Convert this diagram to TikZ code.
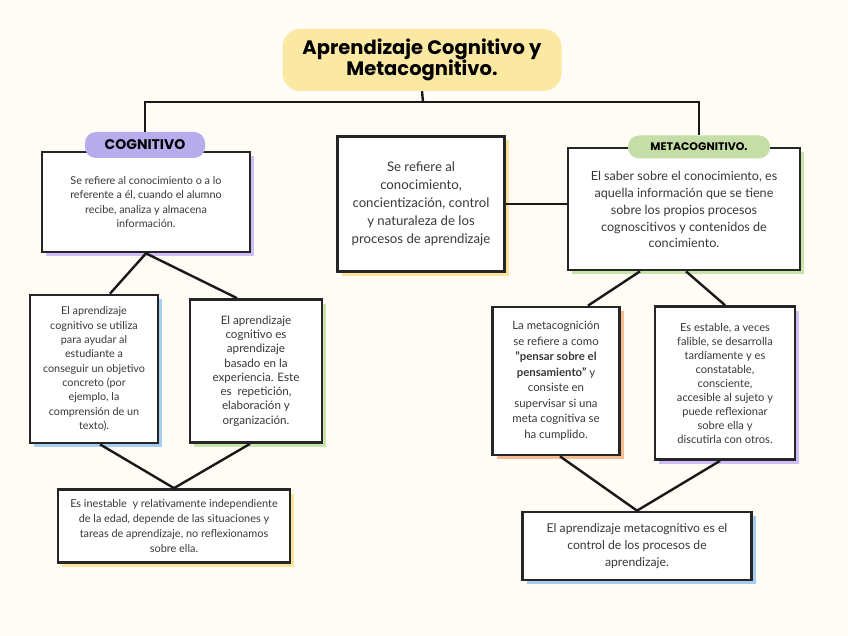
\documentclass[tikz,border=0pt]{standalone}
\usepackage{fontspec}
\setmainfont{Lato}
\newfontfamily\titlefont{Poppins}
\usetikzlibrary{shadows}
\definecolor{paper}{RGB}{254,252,245}
\definecolor{titleyellow}{RGB}{251,233,163}
\definecolor{lilac}{RGB}{183,172,236}
\definecolor{sage}{RGB}{197,222,168}
\definecolor{shlilac}{RGB}{205,190,246}
\definecolor{shsage}{RGB}{200,228,170}
\definecolor{shblue}{RGB}{165,205,238}
\definecolor{shorange}{RGB}{246,188,146}
\definecolor{shyellow}{RGB}{250,228,155}
\tikzset{
  card/.style={draw=black!85, line width=2.7pt, fill=white, align=center, inner sep=2pt,
    text=black!78, font=\fontsize{10.8}{14.3}\selectfont},
  backing/.style={general shadow={fill=#1, shadow xshift=4pt, shadow yshift=-4pt}},
  pill/.style={fill=#1, rounded corners=11pt, inner sep=0pt, text=black,
    font=\titlefont\bfseries},
  link/.style={line width=2.4pt, black!90}
}
\begin{document}
\begin{tikzpicture}[x=1pt, y=-1pt]
\useasboundingbox[fill=paper] (0,0) rectangle (848,636);

% title
\node[fill=titleyellow, rounded corners=18pt, minimum width=279pt, minimum height=62pt,
  align=center, font=\titlefont\bfseries\fontsize{19.5}{21}\selectfont] (title) at (422,60)
  {Aprendizaje Cognitivo y\\Metacognitivo.};
\coordinate (hub) at (423,102);

% first row
\node[card, backing=shlilac, minimum width=208pt, minimum height=100pt] (cog) at (146,202)
  {Se refiere al conocimiento o a lo\\referente a él, cuando el alumno\\recibe, analiza y almacena\\información.};
\node[card, backing=shyellow, minimum width=167pt, minimum height=135pt,
  font=\fontsize{13.2}{18}\selectfont] (mid) at (421,204)
  {Se refiere al\\conocimiento,\\concientización, control\\y naturaleza de los\\procesos de aprendizaje};
\node[card, backing=shsage, minimum width=232pt, minimum height=122pt,
  font=\fontsize{12.6}{16.8}\selectfont] (meta) at (684,209)
  {\\[-6pt]El saber sobre el conocimiento, es\\aquella información que se tiene\\sobre los propios procesos\\cognoscitivos y contenidos de\\concimiento.};
\node[pill=lilac, minimum width=120pt, minimum height=26pt, font=\titlefont\bfseries\fontsize{14}{16}\selectfont] (coglab) at (145,145) {COGNITIVO};
\node[pill=sage, minimum width=142pt, minimum height=23pt, font=\titlefont\bfseries\fontsize{11}{13}\selectfont] (metalab) at (699,147) {METACOGNITIVO.};

% second row
\node[card, backing=shblue, minimum width=128pt, minimum height=148pt] (cogA) at (94,369)
  {El aprendizaje\\cognitivo se utiliza\\para ayudar al\\estudiante a\\conseguir un objetivo\\concreto (por\\ejemplo, la\\comprensión de un\\texto).};
\node[card, backing=shsage, minimum width=132pt, minimum height=143pt,
  font=\fontsize{11.6}{14.3}\selectfont] (cogB) at (256,371)
  {El aprendizaje\\cognitivo es\\aprendizaje\\basado en la\\experiencia. Este\\es\ \ repetición,\\elaboración y\\organización.};
\node[card, backing=shorange, minimum width=127pt, minimum height=148pt,
  font=\fontsize{11.4}{15.5}\selectfont] (metaA) at (556,381)
  {La metacognición\\se refiere a como\\\textbf{"pensar sobre el}\\\textbf{pensamiento"} y\\consiste en\\supervisar si una\\meta cognitiva se\\ha cumplido.};
\node[card, backing=shlilac, minimum width=140pt, minimum height=153pt,
  font=\fontsize{11.1}{14}\selectfont] (metaB) at (725,383)
  {Es estable, a veces\\falible, se desarrolla\\tardíamente y es\\constatable,\\consciente,\\accesible al sujeto y\\puede reflexionar\\sobre ella y\\discutirla con otros.};

% third row
\node[card, backing=shyellow, minimum width=232pt, minimum height=73pt,
  font=\fontsize{10.9}{15}\selectfont] (cogC) at (174,526)
  {Es inestable\ \ y relativamente independiente\\de la edad, depende de las situaciones y\\tareas de aprendizaje, no reflexionamos\\sobre ella.};
\node[card, backing=shblue, minimum width=229pt, minimum height=68pt,
  font=\fontsize{12.2}{17}\selectfont] (metaC) at (637,546)
  {El aprendizaje metacognitivo es el\\control de los procesos de\\aprendizaje.};

% connectors
\draw[link] (title.south) -- (hub);
\draw[link] (coglab.north) |- (hub) -| (metalab.north);
\draw[link] (mid.east) -- (mid.east -| meta.west);
\draw[link] (cog.south) -- ([xshift=16pt]cogA.north);
\draw[link] (cog.south) -- ([xshift=-19pt]cogB.north);
\draw[link] ([xshift=6pt]cogA.south) -- (cogC.north);
\draw[link] ([xshift=-6pt]cogB.south) -- (cogC.north);
\draw[link] ([xshift=-44pt]meta.south) -- ([xshift=32pt]metaA.north);
\draw[link] ([xshift=2pt]meta.south) -- (metaB.north);
\draw[link] ([xshift=4pt]metaA.south) -- (metaC.north);
\draw[link] ([xshift=-5pt]metaB.south) -- (metaC.north);
\end{tikzpicture}
\end{document}
